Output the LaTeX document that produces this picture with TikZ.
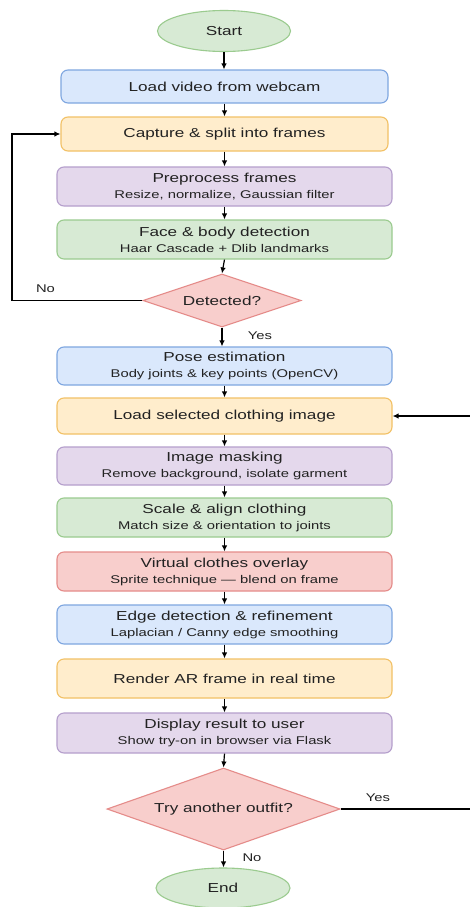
\documentclass[tikz,border=0pt]{standalone}
\usepackage{fontspec}
\setmainfont{Liberation Sans}[FakeStretch=1.32]
\usetikzlibrary{shapes.geometric,arrows.meta}
\definecolor{bluef}{HTML}{DAE8FC}\definecolor{blued}{HTML}{7EA6E0}
\definecolor{orangef}{HTML}{FFEDCC}\definecolor{oranged}{HTML}{F2C166}
\definecolor{purplef}{HTML}{E4D8EC}\definecolor{purpled}{HTML}{B59FCC}
\definecolor{greenf}{HTML}{D7EAD4}\definecolor{greend}{HTML}{9BCB8F}
\definecolor{redf}{HTML}{F8CECC}\definecolor{redd}{HTML}{E58C8A}
\definecolor{txt}{HTML}{222222}
\newcommand{\ttl}{\fontsize{13}{15}\selectfont}
\newcommand{\sbt}{\fontsize{11.2}{13}\selectfont}
\tikzset{
  box/.style={rectangle,rounded corners=7pt,line width=1.1pt,minimum width=335pt,
    inner sep=0pt,align=center,text=txt,font=\ttl},
  bluebox/.style={box,fill=bluef,draw=blued},
  orangebox/.style={box,fill=orangef,draw=oranged},
  purplebox/.style={box,fill=purplef,draw=purpled},
  greenbox/.style={box,fill=greenf,draw=greend},
  redbox/.style={box,fill=redf,draw=redd},
  term/.style={ellipse,fill=greenf,draw=greend,line width=1.1pt,inner sep=0pt,
    minimum width=133pt,minimum height=41pt,text=txt,font=\ttl},
  decide/.style={diamond,fill=redf,draw=redd,line width=1.1pt,inner sep=0pt,
    text=txt,font=\ttl,aspect=3},
  conn/.style={line width=1.2pt,draw=black,-{Latex[length=6pt,width=5.5pt]}},
  lbl/.style={text=txt,font=\sbt,inner sep=0pt}
}
\begin{document}
\begin{tikzpicture}[x=1pt,y=-1pt]
\useasboundingbox[fill=white] (0,0) rectangle (470,907);
\node[term] (start) at (224,31) {Start};
\node[bluebox,minimum width=327pt,minimum height=33pt] (load) at (224.5,86.5) {Load video from webcam};
\node[orangebox,minimum width=327pt,minimum height=34pt] (cap) at (224.5,134) {Capture \& split into frames};
\node[purplebox,minimum height=39pt] (prep) at (224.5,186.5) {Preprocess frames\\[1pt]{\sbt Resize, normalize, Gaussian filter}};
\node[greenbox,minimum height=39pt] (face) at (224.5,239.5) {Face \& body detection\\[1pt]{\sbt Haar Cascade + Dlib landmarks}};
\node[decide,minimum width=158pt,minimum height=53pt] (det) at (222,300.5) {Detected?};
\node[bluebox,minimum height=38pt] (pose) at (224.5,366) {Pose estimation\\[1pt]{\sbt Body joints \& key points (OpenCV)}};
\node[orangebox,minimum height=36pt] (cloth) at (224.5,416) {Load selected clothing image};
\node[purplebox,minimum height=38pt] (mask) at (224.5,466) {Image masking\\[1pt]{\sbt Remove background, isolate garment}};
\node[greenbox,minimum height=39pt] (scale) at (224.5,517.5) {Scale \& align clothing\\[1pt]{\sbt Match size \& orientation to joints}};
\node[redbox,minimum height=39pt] (virt) at (224.5,571.5) {Virtual clothes overlay\\[1pt]{\sbt Sprite technique --- blend on frame}};
\node[bluebox,minimum height=39pt] (edge) at (224.5,624.5) {Edge detection \& refinement\\[1pt]{\sbt Laplacian / Canny edge smoothing}};
\node[orangebox,minimum height=39pt] (render) at (224.5,678.5) {Render AR frame in real time};
\node[purplebox,minimum height=40pt] (disp) at (224.5,733) {Display result to user\\[1pt]{\sbt Show try-on in browser via Flask}};
\node[decide,minimum width=233pt,minimum height=82pt] (try) at (223.5,809) {Try another outfit?};
\node[term,minimum width=134pt,minimum height=40pt] (end) at (223,888) {End};
\node[lbl] (yes1) at (260,336) {Yes};
\node[lbl] (no1) at (45.5,289) {No};
\node[lbl] (yes2) at (378,797.5) {Yes};
\node[lbl] (no2) at (252,858) {No};
\coordinate (lft) at (12,300.5);
\coordinate (rgt) at (474,809);
\draw[conn] (start.south) -- (start.south |- load.north);
\draw[conn] (load) -- (cap);
\draw[conn] (cap) -- (prep);
\draw[conn] (prep) -- (face);
\draw[conn] (face.south) -- (det.north);
\draw[conn] (det.south) -- (det.south |- pose.north);
\draw[conn] (pose) -- (cloth);
\draw[conn] (cloth) -- (mask);
\draw[conn] (mask) -- (scale);
\draw[conn] (scale) -- (virt);
\draw[conn] (virt) -- (edge);
\draw[conn] (edge) -- (render);
\draw[conn] (render) -- (disp);
\draw[conn] (disp.south) -- (try.north);
\draw[conn] (try.south) -- (try.south |- end.north);
\draw[conn] (det.west) -- (lft) |- (cap.west);
\draw[conn] (try.east) -- (rgt) |- (cloth.east);
\end{tikzpicture}
\end{document}
